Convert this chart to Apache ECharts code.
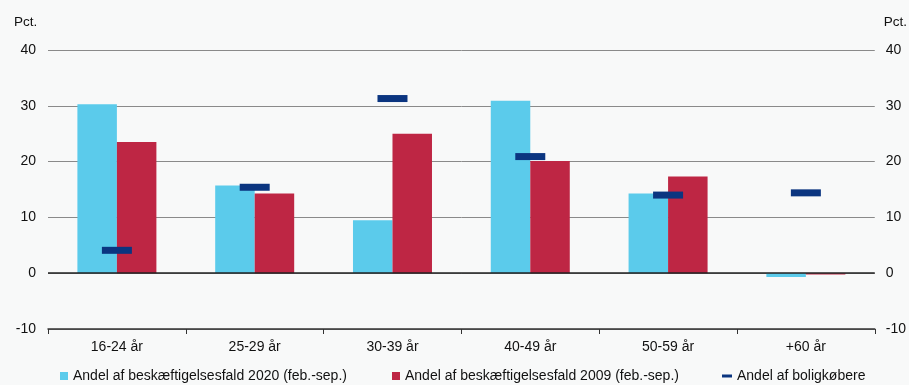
<!DOCTYPE html>
<html><head><meta charset="utf-8">
<script src="https://cdn.jsdelivr.net/npm/echarts@6/dist/echarts.min.js"></script>
<style>html,body{margin:0;padding:0;background:#f8f9f9}#c{width:909px;height:385px}</style>
</head><body><div id="c"></div>
<script>
const categories = ['16-24 år','25-29 år','30-39 år','40-49 år','50-59 år','+60 år'];
const fald2020 = [30.3, 15.7, 9.5, 30.9, 14.3, -0.7];
const fald2009 = [23.5, 14.3, 25.0, 20.1, 17.35, -0.25];
const boligkobere = [4.1, 15.4, 31.3, 20.9, 14.0, 14.4];
const seriesNames = ['Andel af beskæftigelsesfald 2020 (feb.-sep.)','Andel af beskæftigelsesfald 2009 (feb.-sep.)','Andel af boligkøbere'];
const yTicks = {min:-10, max:40, interval:10};

const font = 'Arial, "Liberation Sans", sans-serif';
const chart = echarts.init(document.getElementById('c'));
const legendText = {fontFamily: font, fontSize: 14, color: '#111'};
chart.setOption({
  backgroundColor: '#f8f9f9',
  animation: false,
  textStyle: {fontFamily: font},
  grid: {left: 48, right: 33, top: 50, bottom: 56},
  graphic: [
    {type:'text', left: 14, top: 15, style:{text:'Pct.', font:'13.5px '+font, fill:'#111'}},
    {type:'text', right: 2, top: 15, style:{text:'Pct.', font:'13.5px '+font, fill:'#111'}}
  ],
  legend: [
    {data:[seriesNames[0]], left: 60, top: 369, itemWidth: 8, itemHeight: 8, textStyle: legendText, icon:'rect', padding:[0,0,0,0]},
    {data:[seriesNames[1]], left: 392, top: 369, itemWidth: 8, itemHeight: 8, textStyle: legendText, icon:'rect', padding:[0,0,0,0]},
    {data:[seriesNames[2]], left: 722, top: 369, itemWidth: 10, itemHeight: 3, textStyle: legendText, icon:'rect', padding:[0,0,0,0]}
  ],
  xAxis: {
    type: 'category', data: categories,
    axisLine: {onZero: false, lineStyle: {color: '#333', width: 1.5}},
    axisTick: {show: true, alignWithLabel: false, length: 5, lineStyle: {color: '#333'}},
    axisLabel: {fontSize: 14, color: '#111', margin: 11, fontFamily: font}
  },
  yAxis: [
    {type:'value', min: yTicks.min, max: yTicks.max, interval: yTicks.interval, position:'left',
     axisLabel:{fontSize:14, color:'#111', margin: 12, fontFamily: font},
     axisLine:{show:false}, axisTick:{show:false},
     splitLine:{show:true, lineStyle:{color:'#8a8a8a', width:1}}},
    {type:'value', min: yTicks.min, max: yTicks.max, interval: yTicks.interval, position:'right',
     axisLabel:{fontSize:14, color:'#111', margin: 11, fontFamily: font},
     axisLine:{show:false}, axisTick:{show:false}, splitLine:{show:false}}
  ],
  series: [
    {name: seriesNames[0], type:'bar', data: fald2020, barWidth: 39.5, barGap: '0%',
     itemStyle:{color:'#5bcbeb'},
     markLine:{silent:true, symbol:'none', label:{show:false}, lineStyle:{color:'#222', width:1.5, type:'solid'}, data:[{yAxis:0}]}},
    {name: seriesNames[1], type:'bar', data: fald2009, barWidth: 39.5, barGap: '0%',
     itemStyle:{color:'#be2644'}},
    {name: seriesNames[2], type:'scatter', data: boligkobere, symbol:'rect', symbolSize:[30,7],
     itemStyle:{color:'#0b3580', opacity:1}, z: 5}
  ]
});
</script></body></html>
